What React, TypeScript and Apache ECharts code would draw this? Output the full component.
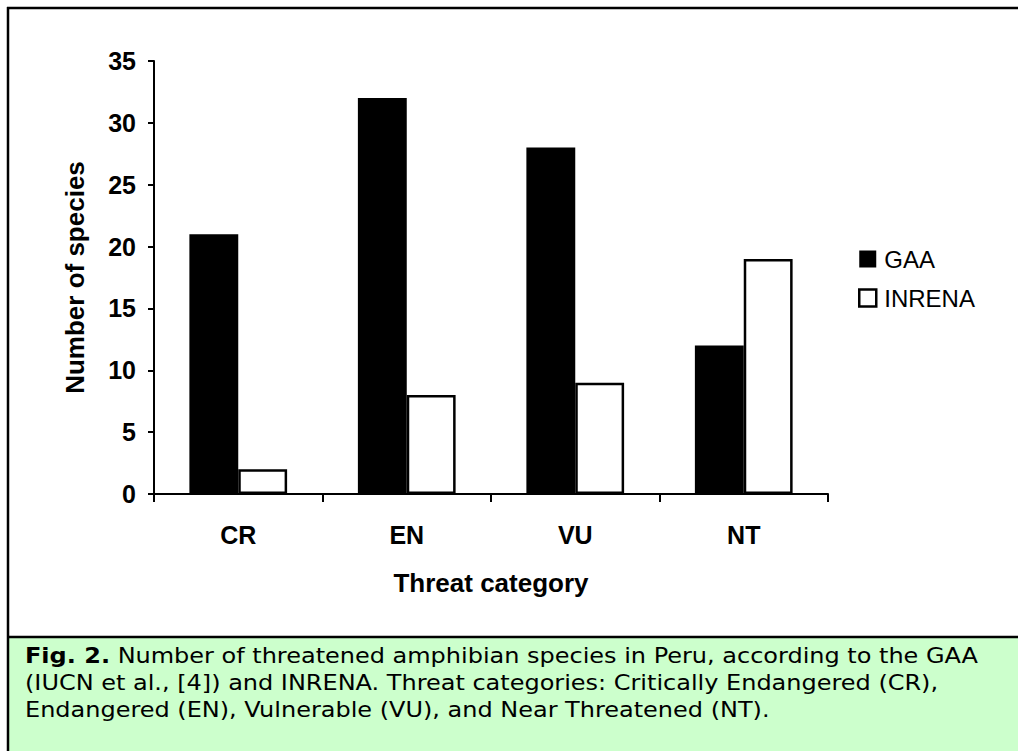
import React, { useEffect, useRef } from "react";
import * as echarts from "echarts";

const categories = ["CR", "EN", "VU", "NT"];
const gaaValues = [21, 32, 28, 12];
const inrenaValues = [2, 8, 9, 19];
const yTicks = { min: 0, max: 35, interval: 5 };
const xTitle = "Threat category";
const yTitle = "Number of species";
const captionLines = [
  "Number of threatened amphibian species in Peru, according to the GAA",
  "(IUCN et al., [4]) and INRENA. Threat categories: Critically Endangered (CR),",
  "Endangered (EN), Vulnerable (VU), and Near Threatened (NT).",
];
const captionLabel = "Fig. 2.";

const FONT = "Liberation Sans, Arial, sans-serif";
const CAPFONT = "DejaVu Sans, Verdana, sans-serif";

export default function App() {
  const ref = useRef<HTMLDivElement>(null);
  useEffect(() => {
    if (!ref.current) return;
    const chart = echarts.init(ref.current, undefined, { renderer: "svg" });
    chart.setOption({
      animation: false,
      backgroundColor: "#ffffff",
      textStyle: { fontFamily: FONT, color: "#000" },
      grid: { left: 154, right: 190, top: 61, bottom: 257, containLabel: false },
      legend: {
        orient: "vertical",
        left: 853,
        top: 242,
        itemWidth: 17,
        itemHeight: 17,
        itemGap: 15,
        icon: "rect",
        textStyle: { fontFamily: FONT, fontSize: 24, color: "#000", padding: [0, 0, 0, 3] },
        data: [
          { name: "GAA", itemStyle: { color: "#000", borderColor: "#000", borderWidth: 0 } },
          { name: "INRENA", itemStyle: { color: "#fff", borderColor: "#000", borderWidth: 2.5 } },
        ],
      },
      xAxis: {
        type: "category",
        data: categories,
        name: xTitle,
        nameLocation: "middle",
        nameGap: 76,
        nameTextStyle: { fontFamily: FONT, fontSize: 26, fontWeight: "bold", color: "#000" },
        axisLine: { show: true, lineStyle: { color: "#000", width: 2 } },
        axisTick: { show: true, inside: false, length: 8, lineStyle: { color: "#000", width: 2 } },
        axisLabel: { fontFamily: FONT, fontSize: 25, fontWeight: "bold", color: "#000", margin: 28 },
        splitLine: { show: false },
      },
      yAxis: {
        type: "value",
        min: yTicks.min,
        max: yTicks.max,
        interval: yTicks.interval,
        name: yTitle,
        nameLocation: "middle",
        nameRotate: 90,
        nameGap: 66,
        nameTextStyle: { fontFamily: FONT, fontSize: 26, fontWeight: "bold", color: "#000" },
        axisLine: { show: true, lineStyle: { color: "#000", width: 2 } },
        axisTick: { show: true, inside: false, length: 6, lineStyle: { color: "#000", width: 2 } },
        axisLabel: { fontFamily: FONT, fontSize: 25, fontWeight: "bold", color: "#000", margin: 18 },
        splitLine: { show: false },
      },
      series: [
        {
          name: "GAA",
          type: "bar",
          data: gaaValues,
          barGap: "0%",
          barCategoryGap: "42%",
          itemStyle: { color: "#000", borderColor: "#000", borderWidth: 2 },
        },
        {
          name: "INRENA",
          type: "bar",
          data: inrenaValues,
          barGap: "0%",
          barCategoryGap: "42%",
          itemStyle: { color: "#fff", borderColor: "#000", borderWidth: 2.5 },
        },
      ],
      graphic: [
        {
          type: "rect",
          silent: true,
          z: -1,
          shape: { x: 9, y: 638, width: 1010, height: 114 },
          style: { fill: "#CCFFCC" },
        },
        {
          type: "line",
          silent: true,
          shape: { x1: 8, y1: 7, x2: 8, y2: 752 },
          style: { stroke: "#000", lineWidth: 2.5 },
        },
        {
          type: "line",
          silent: true,
          shape: { x1: 7, y1: 8, x2: 1019, y2: 8 },
          style: { stroke: "#000", lineWidth: 2.5 },
        },
        {
          type: "line",
          silent: true,
          shape: { x1: 7, y1: 637, x2: 1019, y2: 637 },
          style: { stroke: "#000", lineWidth: 2.5 },
        },
        {
          type: "text",
          silent: true,
          x: 25,
          y: 642,
          scaleX: 1.17,
          scaleY: 1,
          style: {
            text: "{b|" + captionLabel + "} " + captionLines.join("\n"),
            fontFamily: CAPFONT,
            fontSize: 20.5,
            lineHeight: 27,
            fill: "#000",
            align: "left",
            verticalAlign: "top",
            rich: {
              b: {
                fontFamily: CAPFONT,
                fontSize: 20.5,
                fontWeight: "bold",
                lineHeight: 27,
                fill: "#000",
              },
            },
          },
        },
      ],
    });
    return () => chart.dispose();
  }, []);
  return (
    <div
      ref={ref}
      style={{ position: "absolute", left: 0, top: 0, width: 1018, height: 751 }}
    />
  );
}
